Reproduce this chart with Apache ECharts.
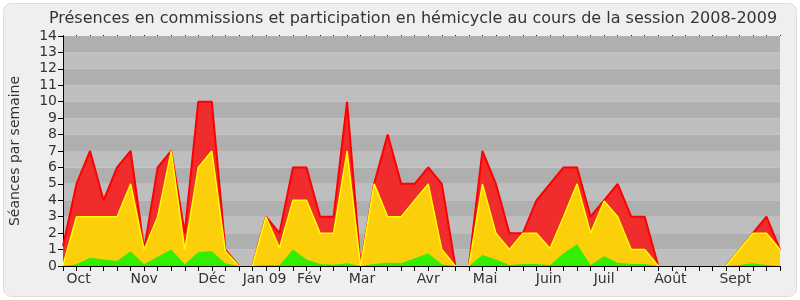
<!DOCTYPE html>
<html>
<head>
<meta charset="utf-8">
<script src="https://cdn.jsdelivr.net/npm/echarts@6/dist/echarts.min.js"></script>
<style>html,body{margin:0;padding:0;background:#ffffff;}#c{width:800px;height:300px;}</style>
</head>
<body>
<div id="c"></div>
<script>
// Weekly cumulative totals (stack tops)
var greenTop  = [0,0.1,0.5,0.4,0.3,0.9,0.1,0.57,1.0,0.1,0.85,0.9,0.16,0,0,0.05,0.05,1.0,0.4,0.12,0.08,0.16,0,0.12,0.2,0.16,0.47,0.77,0.1,0,0,0.67,0.4,0.06,0.12,0.12,0.06,0.77,1.32,0.06,0.6,0.2,0.12,0.12,0,0,0,0,0,0,0.06,0.16,0.06,0.06];
var yellowTop = [0.05,3,3,3,3,5,1,3,7,1,6,7,0.9,0,0,3,1.1,4,4,2,2,7,0,5,3,3,4,5,1,0,0,5,2,1,2,2,1.07,3,5,2,3.95,3,1,1,0,0,0,0,0,0,1,2,2,1];
var redTop    = [1.2,5,7,4,6,7,1,6,7,2,10,10,1,0,0,3,2,6,6,3,3,10,0,5,8,5,5,6,5,0,0,7,5,2,2,4,5,6,6,3,4,5,3,3,0,0,0,0,0,0,1,2,3,1];
var monthPos   = [1.16,6.0,11.0,14.9,18.2,22.1,27.0,31.2,35.9,40.0,44.9,49.7];
var monthNames = ['Oct','Nov','Déc','Jan 09','Fév','Mar','Avr','Mai','Juin','Juil','Août','Sept'];
var yTicks = [0,1,2,3,4,5,6,7,8,9,10,11,12,13,14];

function pts(top){ return top.map(function(v,i){ return [i, v]; }); }
var chart = echarts.init(document.getElementById('c'), null, {renderer:'canvas'});
var font = 'DejaVu Sans';
var nMax = redTop.length-1;
chart.setOption({
  animation:false,
  backgroundColor:'transparent',
  graphic:[{type:'rect', z:-10, shape:{x:3.5,y:3.5,width:793,height:293,r:8}, style:{fill:'#efefef', stroke:'#dcdcdc', lineWidth:1}}],
  title:{text:'Présences en commissions et participation en hémicycle au cours de la session 2008-2009',
    left:408, textAlign:'center', top:6, textStyle:{fontFamily:font,fontSize:16,fontWeight:'normal',color:'#333'}},
  grid:{left:61, right:20, top:36, bottom:34},
  xAxis:[{type:'value', min:0, max:nMax, interval:1, z:10,
    axisLine:{lineStyle:{color:'#000',width:1}},
    axisTick:{show:true, length:5, lineStyle:{color:'#000'}},
    splitLine:{show:false},
    axisLabel:{customValues:monthPos, fontFamily:font, fontSize:14, color:'#333', margin:6,
      formatter:function(v){ var k=-1; for(var j=0;j<monthPos.length;j++){if(Math.abs(monthPos[j]-v)<1e-6)k=j;} return k>=0?monthNames[k]:''; }}
  },{type:'value', min:0, max:nMax, interval:1, position:'top', z:10,
    axisLine:{show:false}, axisLabel:{show:false}, splitLine:{show:false},
    axisTick:{show:true, length:1, lineStyle:{color:'#222'}}
  }],
  yAxis:{type:'value', min:0, max:14, interval:1,
    name:'Séances par semaine', nameLocation:'middle', nameGap:41, nameRotate:90,
    nameTextStyle:{fontFamily:font,fontSize:14,color:'#333'},
    axisLine:{show:true,lineStyle:{color:'#000'}},
    axisTick:{show:true,length:5,lineStyle:{color:'#000'}},
    axisLabel:{fontFamily:font,fontSize:14,color:'#333',margin:6,
      formatter:function(v){return yTicks.indexOf(v)>=0?String(v):'';}},
    splitLine:{show:false},
    splitArea:{show:true, areaStyle:{color:['#bebebe','#afafaf']}}
  },
  series:[
    {name:'red', type:'line', symbol:'none', data:pts(redTop),
     lineStyle:{color:'#ff0000',width:2}, areaStyle:{color:'#f02c2c',opacity:1}, z:1},
    {name:'yellow', type:'line', symbol:'none', data:pts(yellowTop),
     lineStyle:{color:'#ffff00',width:1.5}, areaStyle:{color:'#fbd00a',opacity:1}, z:2},
    {name:'green', type:'line', symbol:'none', data:pts(greenTop),
     lineStyle:{color:'#33ee00',width:0}, areaStyle:{color:'#33ee00',opacity:1}, z:3}
  ]
});
</script>
</body>
</html>
